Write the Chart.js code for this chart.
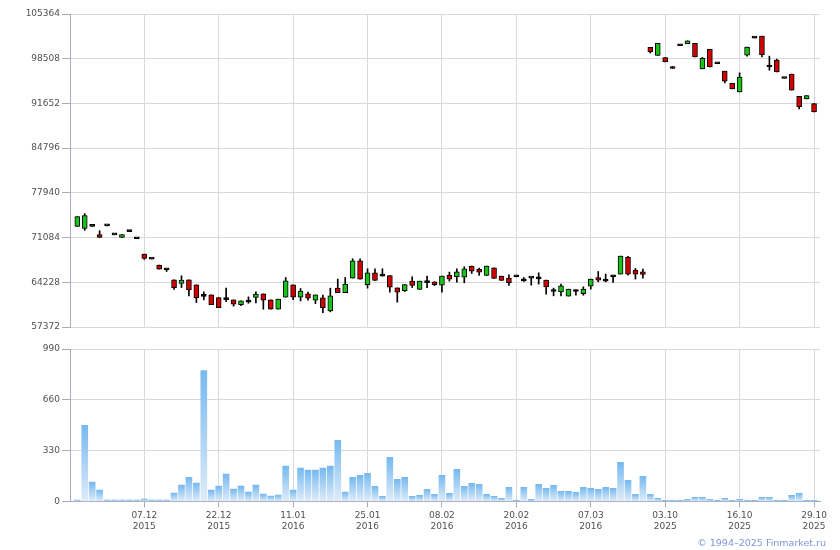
<!DOCTYPE html>
<html>
<head>
<meta charset="utf-8">
<script src="https://cdn.jsdelivr.net/npm/chart.js@4.4.1/dist/chart.umd.min.js"></script>
<style>
  html, body { margin: 0; padding: 0; background: #fff; }
  #wrap { position: relative; width: 840px; height: 550px; overflow: hidden; }
  #cTop { position: absolute; left: 0; top: 0; }
  #cVol { position: absolute; left: 0; top: 336px; }
  .copy { position: absolute; right: 14px; top: 537px; font: 9.5px "DejaVu Sans", Verdana, sans-serif; color: #7f95d6; }
</style>
</head>
<body>
<div id="wrap">
  <canvas id="cTop" width="840" height="336"></canvas>
  <canvas id="cVol" width="840" height="214"></canvas>
  <div class="copy">© 1994–2025 Finmarket.ru</div>
</div>
<script>
// --- datos -----------------------------------------------------------------
// velas: una por sesión, en orden (índice 0..99)
const open = [
  72800, 72500, 72800, 71530, 72870, 71500, 71110, 71990, 70910, 68560,
  67790, 66870, 66150, 64610, 64040, 64610, 63840, 62070, 62300, 61890,
  61560, 61530, 60810, 61180, 61890, 62450, 61530, 60100, 61950, 63840,
  61950, 62450, 61490, 61840, 59840, 63330, 62650, 64870, 67530, 63880,
  65680, 65180, 65270, 63380, 62960, 64410, 63120, 64180, 64300, 63790,
  65330, 65070, 65020, 66720, 66200, 65270, 66450, 65180, 64870, 65070,
  64450, 64870, 64760, 64560, 62810, 62760, 62100, 62810, 62500, 63640,
  64960, 64410, 65070, 65480, 68040, 66100, 65840, 100240, 99010, 98700,
  97320, 100490, 100800, 100860, 96950, 99940, 97740, 96600, 94750, 93410,
  99060, 101670, 101980, 97240, 98290, 95470, 96140, 92750, 92340, 91630,
];
const high = [
  74300, 74760, 72800, 72140, 72870, 71500, 71530, 71990, 70910, 68560,
  67790, 66870, 66150, 64610, 65220, 64610, 63840, 62760, 62300, 61890,
  63330, 61530, 61380, 61990, 62760, 62450, 61530, 61640, 64960, 63840,
  63270, 62720, 62300, 62250, 63330, 64720, 64960, 67840, 67840, 66300,
  66300, 66300, 65270, 63380, 63880, 65070, 64410, 65180, 64300, 65180,
  65790, 66300, 66610, 66720, 66410, 66720, 66450, 65180, 65380, 65070,
  64960, 64870, 65680, 64560, 63330, 63950, 63180, 63070, 63530, 64720,
  65880, 65480, 65220, 68250, 68190, 66350, 66250, 100240, 100860, 98700,
  97320, 100490, 101260, 100860, 98700, 99940, 97740, 96600, 94750, 96340,
  100290, 101670, 101980, 98900, 98440, 95470, 96140, 92750, 92860, 91630,
];
const low = [
  72800, 72190, 72800, 71110, 72870, 71500, 71110, 71990, 70910, 67730,
  67790, 66250, 65880, 63120, 63420, 62150, 61120, 61530, 60810, 60350,
  61270, 60560, 60650, 61020, 61070, 60100, 60100, 60100, 61950, 61580,
  61380, 61490, 60960, 59580, 59690, 62650, 62650, 64870, 64720, 63330,
  64500, 65180, 62720, 61180, 62810, 63420, 63120, 63420, 63730, 62720,
  64410, 64250, 64150, 65580, 65270, 65270, 64810, 64500, 63730, 65070,
  64350, 63790, 63950, 62410, 62150, 62150, 62100, 62250, 62250, 63180,
  64300, 64300, 64190, 65480, 65330, 64720, 64870, 99370, 99010, 98030,
  97010, 100490, 100800, 98800, 96950, 97260, 97740, 94800, 93880, 93410,
  98900, 101670, 98800, 96750, 96490, 95470, 93680, 90800, 92340, 90340,
];
const close = [
  74300, 74450, 72800, 71110, 72870, 71500, 71530, 71990, 70910, 67880,
  67790, 66250, 66150, 63420, 64560, 63070, 61880, 62070, 60810, 60350,
  61560, 60870, 61380, 61180, 62410, 61490, 60100, 61640, 64450, 61950,
  62870, 61790, 62300, 60350, 62150, 62650, 63950, 67530, 64720, 65680,
  64500, 65180, 63480, 62720, 63880, 63730, 64410, 64180, 63880, 65180,
  64720, 65840, 66300, 65950, 65790, 66720, 64810, 64500, 64150, 65070,
  64450, 64870, 64760, 63530, 62810, 63680, 63180, 62810, 63180, 64720,
  64560, 64410, 65070, 68250, 65480, 65480, 65420, 99570, 100860, 98030,
  97010, 100490, 101260, 98800, 98550, 97260, 97740, 95060, 93880, 95680,
  100290, 101670, 99110, 97240, 96490, 95470, 93680, 91110, 92860, 90340,
];
// volumen por sesión
const volume = [
  9, 494, 125, 73, 9, 9, 9, 9, 9, 15,
  9, 9, 9, 54, 106, 157, 119, 850, 73, 99,
  177, 80, 99, 60, 106, 47, 35, 41, 229, 73,
  216, 203, 203, 216, 229, 397, 61, 156, 169, 182,
  98, 33, 287, 143, 156, 33, 39, 78, 46, 169,
  52, 208, 98, 117, 111, 46, 33, 20, 91, 7,
  91, 13, 111, 85, 104, 65, 65, 59, 91, 85,
  78, 91, 85, 254, 137, 46, 163, 46, 20, 7,
  7, 7, 13, 26, 26, 13, 7, 20, 7, 13,
  7, 7, 26, 26, 7, 7, 39, 52, 7, 7,
];
// marcas del eje X: posición (índice de sesión) y texto en dos líneas
const tickIdx = [9, 19, 29, 39, 49, 59, 69, 79, 89, 99];
const tickDays = ['07.12', '22.12', '11.01', '25.01', '08.02', '20.02', '07.03', '03.10', '16.10', '29.10'];
const tickYears = ['2015', '2015', '2016', '2016', '2016', '2016', '2016', '2025', '2025', '2025'];
const priceTicks = [57372, 64228, 71084, 77940, 84796, 91652, 98508, 105364];
const volTicks = [0, 330, 660, 990];

// --- estilos ---------------------------------------------------------------
const GRID = '#d5dae0';
const AXIS = '#a9aabb';
const TXT = '#505050';
const FONT = { family: '"DejaVu Sans", Verdana, sans-serif', size: 9 };
const UP = '#1cc21c', DOWN = '#d20000', FLAT = '#000';
const X_MIN = -0.98, X_MAX = 99.8;

// Eje X lineal: el offset por defecto de las barras corre la escala, se apaga.
function xScale(showLabels) {
  return {
    type: 'linear', min: X_MIN, max: X_MAX, offset: false,
    afterBuildTicks: (s) => { s.ticks = tickIdx.map((v) => ({ value: v })); },
    grid: { color: GRID, offset: false, drawTicks: showLabels, tickLength: 6, tickColor: AXIS },
    border: { display: showLabels, color: AXIS },
    ticks: {
      display: showLabels, color: TXT, font: FONT, padding: 3, maxRotation: 0, autoSkip: false,
      callback: (v) => { const i = tickIdx.indexOf(v); return i < 0 ? '' : [tickDays[i], tickYears[i]]; },
    },
  };
}

function yScale(min, max, ticks) {
  return {
    min, max,
    afterBuildTicks: (s) => { s.ticks = ticks.map((v) => ({ value: v })); },
    afterFit: (s) => { s.width = 70; },
    grid: { color: GRID, tickLength: 8, tickColor: AXIS },
    border: { color: AXIS },
    ticks: { color: TXT, font: FONT, padding: 2, callback: (v) => String(v) },
  };
}

// --- velas -----------------------------------------------------------------
const wicks = open.map((o, i) => ({ x: i, y: [low[i], high[i]] }));
const bodies = open.map((o, i) => ({ x: i, y: [Math.min(o, close[i]), Math.max(o, close[i])] }));
const bodyColors = open.map((o, i) => (close[i] > o ? UP : close[i] < o ? DOWN : FLAT));

new Chart(document.getElementById('cTop'), {
  type: 'bar',
  data: {
    datasets: [
      { data: bodies, backgroundColor: bodyColors, borderColor: '#000', borderWidth: 1, borderSkipped: false,
        barThickness: 5, minBarLength: 2, grouped: false, order: 0 },
      { data: wicks, backgroundColor: '#000', borderWidth: 0, barThickness: 1, grouped: false, order: 1 },
    ],
  },
  options: {
    responsive: false, animation: false, events: [],
    layout: { padding: { top: 14, right: 20, bottom: 9, left: 0 } },
    plugins: { legend: { display: false }, tooltip: { enabled: false } },
    scales: { x: xScale(false), y: yScale(priceTicks[0], priceTicks[priceTicks.length - 1], priceTicks) },
  },
});

// --- volumen ---------------------------------------------------------------
function volFill(ctx) {
  const ch = ctx.chart, a = ch.chartArea;
  if (!a || ctx.type !== 'data') return '#9ccaf2';
  const top = ch.scales.y.getPixelForValue(ctx.parsed.y);
  if (a.bottom - top < 1) return '#d6e8f8';
  const g = ch.ctx.createLinearGradient(0, top, 0, a.bottom);
  g.addColorStop(0, '#76b9f0');
  g.addColorStop(1, '#e0ecf9');
  return g;
}

new Chart(document.getElementById('cVol'), {
  type: 'bar',
  data: { datasets: [{ data: volume.map((v, i) => ({ x: i, y: v })), backgroundColor: volFill, barThickness: 6 }] },
  options: {
    responsive: false, animation: false, events: [],
    layout: { padding: { top: 13, right: 20, bottom: 15, left: 0 } },
    plugins: { legend: { display: false }, tooltip: { enabled: false } },
    scales: { x: xScale(true), y: yScale(0, 990, volTicks) },
  },
});
</script>
</body>
</html>
